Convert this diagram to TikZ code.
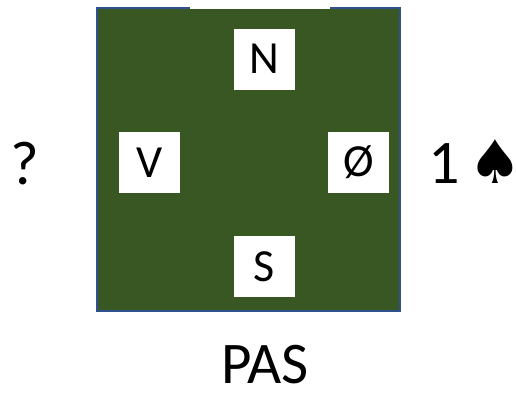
\documentclass[tikz,border=0pt]{standalone}
\usepackage{fontspec}
\setmainfont{Carlito}
\newfontfamily\symfont{DejaVu Sans}
\definecolor{boardgreen}{HTML}{385723}
\definecolor{boardblue}{HTML}{2F528F}
\tikzset{
  seat/.style={fill=white, inner sep=0pt, minimum width=61pt, minimum height=61pt,
    font=\fontsize{46}{50}\selectfont},
  bigtext/.style={inner sep=0pt, anchor=base, text depth=0pt, font=\fontsize{62}{66}\selectfont},
}
\begin{document}
\begin{tikzpicture}[x=1pt,y=-1pt]
\useasboundingbox (0,0) rectangle (516,392);
\fill[boardgreen] (97,9) rectangle (400,311);
\draw[boardblue, line width=1.6pt] (190,8) -- (97,8) -- (97,311) -- (400,311) -- (400,8) -- (330,8);
\node[seat] (N) at (264.5,59) {N};
\node[seat] (S) at (264.5,266.5) {S};
\node[seat] (V) at (149.5,162.5) {V};
\node[seat] (O) at (358.5,162.5) {Ø};
\node[bigtext] (q) at (25,184) {?};
\node[bigtext] (one) at (444,183) {1};
\node[inner sep=0pt, anchor=base, text depth=0pt, font=\symfont\fontsize{60}{64}\selectfont] (spade) at (495,183) {♠};
\node[inner sep=0pt, anchor=base, text depth=0pt, font=\fontsize{59}{63}\selectfont] (pas) at (265,383) {PAS};
\end{tikzpicture}
\end{document}
